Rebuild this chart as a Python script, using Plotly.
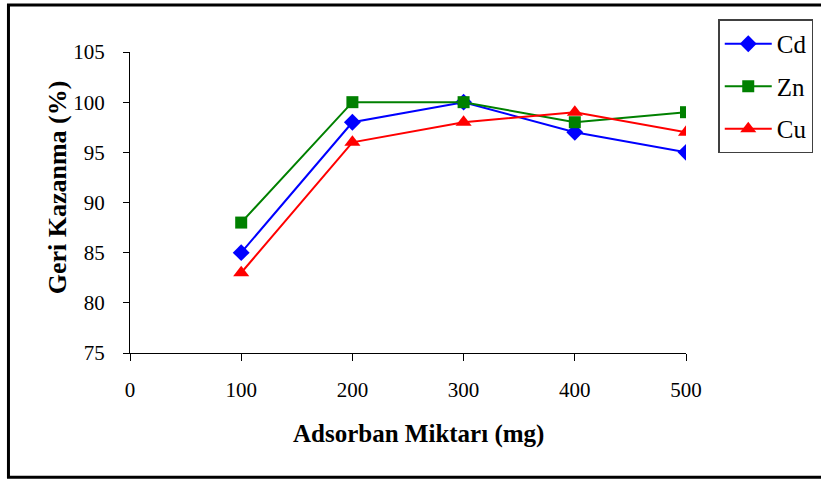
import plotly.graph_objects as go

# Adsorbent amount (mg) and recovery (%) for each metal
adsorban_mg = [100, 200, 300, 400, 500]
cd_recovery = [85, 98, 100, 97, 95]
zn_recovery = [88, 100, 100, 98, 99]
cu_recovery = [83, 96, 98, 99, 97]

x_ticks = [0, 100, 200, 300, 400, 500]
y_ticks = [75, 80, 85, 90, 95, 100, 105]

SERIF = "Liberation Serif"

series = [
    ("Cd", cd_recovery, "#0000FF", "diamond", 13),
    ("Zn", zn_recovery, "#008000", "square", 12),
    ("Cu", cu_recovery, "#FF0000", "triangle-up", 14),
]

fig = go.Figure()
for name, values, color, symbol, size in series:
    fig.add_trace(go.Scatter(
        x=adsorban_mg, y=values, name=name, legendgroup=name,
        mode="lines+markers",
        line=dict(color=color, width=2),
        marker=dict(symbol=symbol, size=size, color=color, line=dict(width=0)),
    ))

fig.update_layout(
    width=821, height=480,
    margin=dict(l=130, r=135, t=52, b=127, autoexpand=False),
    paper_bgcolor="white", plot_bgcolor="white",
    font=dict(family=SERIF, size=21, color="black"),
    showlegend=True,
    legend=dict(
        x=1.058, xanchor="left", y=1.108, yanchor="top",
        bordercolor="#404040", borderwidth=1.5, bgcolor="white",
        font=dict(family=SERIF, size=25, color="black"),
        traceorder="grouped", tracegroupgap=7, itemwidth=47,
    ),
    xaxis=dict(
        range=[0, 500], tickvals=x_ticks, showgrid=False, zeroline=False,
        showline=True, linecolor="black", linewidth=1,
        ticks="outside", ticklen=7, tickcolor="black", tickwidth=1,
        ticklabelstandoff=11, tickfont=dict(family=SERIF, size=21),
    ),
    yaxis=dict(
        range=[75, 105], tickvals=y_ticks, showgrid=False, zeroline=False,
        showline=True, linecolor="black", linewidth=1,
        ticks="outside", ticklen=6, tickcolor="black", tickwidth=1,
        ticklabelstandoff=14, tickfont=dict(family=SERIF, size=21),
    ),
    annotations=[
        dict(text="<b>Adsorban Miktarı (mg)</b>", xref="paper", yref="paper",
             x=0.519, y=-0.268, xanchor="center", yanchor="middle",
             showarrow=False, font=dict(family=SERIF, size=25, color="black")),
        dict(text="<b>Geri Kazanma (%)</b>", xref="paper", yref="paper",
             x=-0.131, y=0.551, xanchor="center", yanchor="middle", textangle=-90,
             showarrow=False, font=dict(family=SERIF, size=26, color="black")),
    ],
    shapes=[
        # outer chart frame
        dict(type="rect", xref="paper", yref="paper",
             x0=-0.2186, x1=1.26, y0=-0.4127, y1=1.1563,
             line=dict(color="black", width=3), fillcolor="rgba(0,0,0,0)", layer="below"),
    ],
)

fig.write_html("out.html")
